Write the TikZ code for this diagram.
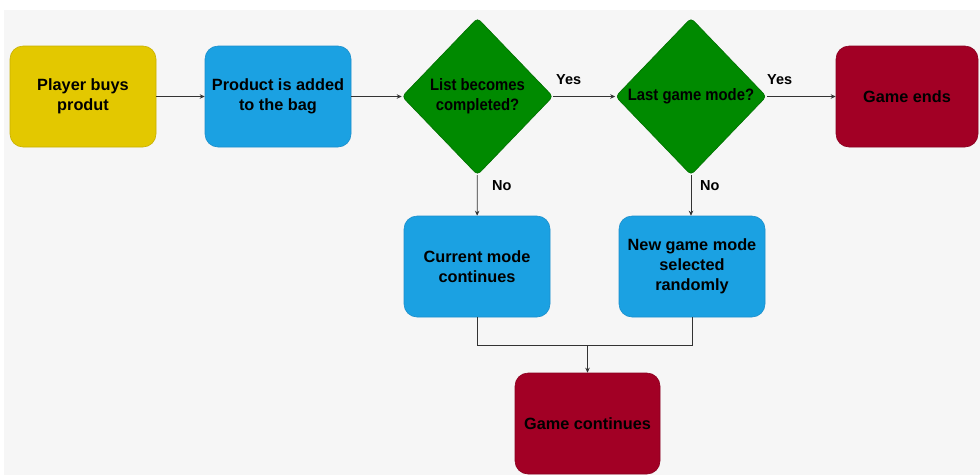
\documentclass[tikz,border=0pt]{standalone}
\usepackage{fontspec}
\setmainfont{Liberation Sans}
\newfontfamily\narrowsans[FakeStretch=0.9]{Liberation Sans}
\usetikzlibrary{shapes.geometric,arrows.meta}

\definecolor{pagebg}{HTML}{F6F6F6}
\definecolor{yelfill}{HTML}{E3C800}
\definecolor{yeldraw}{HTML}{C8B000}
\definecolor{bluefill}{HTML}{1BA1E2}
\definecolor{bluedraw}{HTML}{1C8FCC}
\definecolor{greenfill}{HTML}{008A00}
\definecolor{greendraw}{HTML}{007000}
\definecolor{redfill}{HTML}{A20025}
\definecolor{reddraw}{HTML}{8A0020}
\definecolor{linkgray}{HTML}{333333}

\tikzset{
  stepbox/.style={rectangle, rounded corners=13pt, minimum width=146pt,
    minimum height=101pt, inner sep=2pt, align=center, line width=0.6pt,
    font=\fontsize{16.3}{20}\selectfont\bfseries, text=black},
  yellowbox/.style={stepbox, fill=yelfill, draw=yeldraw},
  bluebox/.style={stepbox, fill=bluefill, draw=bluedraw},
  redbox/.style={stepbox, fill=redfill, draw=reddraw},
  decision/.style={diamond, shape aspect=0.96, minimum width=151pt,
    minimum height=157pt, inner sep=0pt, align=center, rounded corners=4pt,
    fill=greenfill, draw=greendraw, line width=0.6pt, text=black,
    font=\narrowsans\fontsize{16.5}{20}\selectfont\bfseries},
  link/.style={draw=linkgray, line width=0.8pt,
    -{Stealth[length=5pt,width=4.5pt]}},
  plainlink/.style={draw=linkgray, line width=0.8pt},
  edgelabel/.style={font=\fontsize{14.5}{17}\selectfont\bfseries, text=black,
    inner sep=0pt}
}

\begin{document}
\begin{tikzpicture}[x=1pt,y=-1pt]
  % canvas: white page with a light grey drawing area
  \fill[white] (0,0) rectangle (980,475);
  \fill[pagebg] (4,10) rectangle (980,475);
  \useasboundingbox (0,0) rectangle (980,475);

  % top row
  \node[yellowbox] (buy) at (83,96.5) {Player buys\\produt};
  \node[bluebox] (added) at (278,96.5) {Product is added\\to the bag};
  \node[decision] (listdone) at (477.5,96.5) {List becomes\\completed?};
  \node[decision] (lastmode) at (691,96.5) {Last game mode?};
  \node[redbox, minimum width=142pt] (ends) at (907,96.5) {Game ends};

  % second row
  \node[bluebox] (current) at (477,266.5) {Current mode\\continues};
  \node[bluebox] (newmode) at (692,266.5) {New game mode\\selected\\randomly};

  % bottom
  \node[redbox, minimum width=145pt] (continues) at (587.5,423.5) {Game continues};

  % junction where the two branches meet
  \coordinate (join) at (587.5,345.5);

  % connectors
  \draw[link] (buy) -- (added);
  \draw[link] (added) -- (listdone);
  \draw[link] (listdone) -- (lastmode);
  \draw[link] (lastmode) -- (ends);
  \draw[link] (listdone) -- (current);
  \draw[link] (lastmode.south) -- (newmode.north -| lastmode.south);
  \draw[plainlink] (current.south) |- (join);
  \draw[plainlink] (newmode.south) |- (join);
  \draw[link] (join) -- (continues);

  % branch labels
  \node[edgelabel, anchor=west] (yes1) at (556,80) {Yes};
  \node[edgelabel, anchor=west] (yes2) at (767,80) {Yes};
  \node[edgelabel, anchor=west] (no1) at (492,186) {No};
  \node[edgelabel, anchor=west] (no2) at (700,186) {No};
\end{tikzpicture}
\end{document}
